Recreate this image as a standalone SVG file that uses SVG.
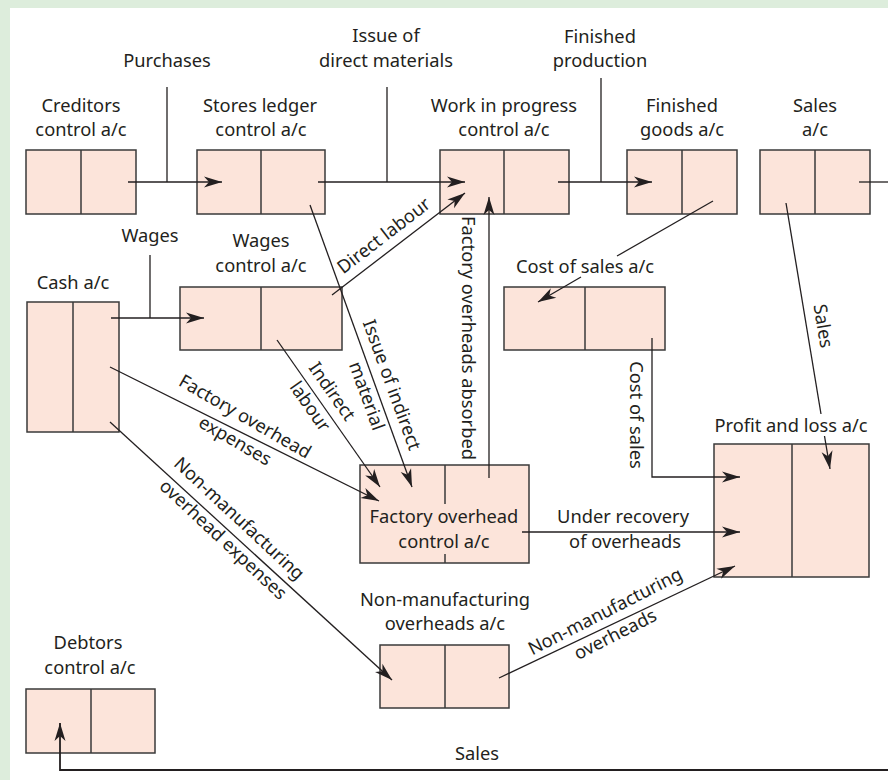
<svg xmlns="http://www.w3.org/2000/svg" width="888" height="780" viewBox="0 0 888 780">
<defs>
<marker id="ah" markerUnits="userSpaceOnUse" markerWidth="22" markerHeight="14" viewBox="-19 -7 20 14" refX="0" refY="0" orient="auto">
<path d="M0,0 L-18,-5.5 L-13,0 L-18,5.5 Z" fill="#231f20"/>
</marker>
</defs>
<style>
.bg{fill:#ffffff}
.band{fill:#ddeddc}
.box{fill:#fce4da;stroke:#3a3a3a;stroke-width:1.5}
.div{stroke:#3a3a3a;stroke-width:1.5;fill:none}
.c{stroke:#231f20;stroke-width:1.3;fill:none}
.ca{stroke:#231f20;stroke-width:1.3;fill:none;marker-end:url(#ah)}
text{font-family:"Noto Sans","Liberation Sans",sans-serif;font-size:18.3px;fill:#231f20;text-anchor:middle}
</style>
<rect class="bg" x="0" y="0" width="888" height="780"/>
<rect class="band" x="0" y="0" width="10" height="780"/>
<rect class="band" x="0" y="0" width="888" height="8"/>

<g id="creditors">
<rect class="box" x="26" y="150" width="110" height="64"/>
<line class="div" x1="81" y1="150" x2="81" y2="214"/>
<text x="81" y="112">Creditors</text>
<text x="81" y="136">control a/c</text>
</g>
<g id="stores">
<rect class="box" x="197" y="150" width="128" height="64"/>
<line class="div" x1="261" y1="150" x2="261" y2="214"/>
<text x="260" y="112">Stores ledger</text>
<text x="261" y="136">control a/c</text>
</g>
<g id="wip">
<rect class="box" x="440" y="150" width="129" height="64"/>
<line class="div" x1="504" y1="150" x2="504" y2="214"/>
<text x="504" y="112">Work in progress</text>
<text x="504" y="136">control a/c</text>
</g>
<g id="finished">
<rect class="box" x="627" y="150" width="110" height="64"/>
<line class="div" x1="682" y1="150" x2="682" y2="214"/>
<text x="682" y="112">Finished</text>
<text x="682" y="136">goods a/c</text>
</g>
<g id="sales">
<rect class="box" x="760" y="150" width="110" height="64"/>
<line class="div" x1="815" y1="150" x2="815" y2="214"/>
<text x="815" y="112">Sales</text>
<text x="815" y="136">a/c</text>
</g>
<g id="cash">
<rect class="box" x="27" y="302" width="92" height="130"/>
<line class="div" x1="73" y1="302" x2="73" y2="432"/>
<text x="73" y="289">Cash a/c</text>
</g>
<g id="wages">
<rect class="box" x="180" y="287" width="162" height="63"/>
<line class="div" x1="261" y1="287" x2="261" y2="350"/>
<text x="261" y="247">Wages</text>
<text x="261" y="272">control a/c</text>
</g>
<g id="costofsales">
<rect class="box" x="504" y="287" width="161" height="63"/>
<line class="div" x1="585" y1="287" x2="585" y2="350"/>
<text x="585" y="273">Cost of sales a/c</text>
</g>
<g id="factoryoverhead">
<rect class="box" x="360" y="465" width="169" height="98"/>
<line class="div" x1="445" y1="465" x2="445" y2="504"/>
<line class="div" x1="445" y1="554" x2="445" y2="563"/>
<text x="444" y="523">Factory overhead</text>
<text x="444" y="548">control a/c</text>
</g>
<g id="profitloss">
<rect class="box" x="714" y="444" width="155" height="133"/>
<line class="div" x1="792" y1="444" x2="792" y2="577"/>
<text x="791" y="432">Profit and loss a/c</text>
</g>
<g id="nonmanufacturing">
<rect class="box" x="380" y="645" width="129" height="63"/>
<line class="div" x1="445" y1="645" x2="445" y2="708"/>
<text x="445" y="606">Non-manufacturing</text>
<text x="445" y="630">overheads a/c</text>
</g>
<g id="debtors">
<rect class="box" x="26" y="689" width="129" height="64"/>
<line class="div" x1="91" y1="689" x2="91" y2="753"/>
<text x="88" y="649">Debtors</text>
<text x="90" y="674">control a/c</text>
</g>

<g id="connectors">
<line class="ca" x1="128" y1="182" x2="222" y2="182"/>
<line class="c" x1="167" y1="87" x2="167" y2="182"/>
<line class="ca" x1="318" y1="182" x2="465" y2="182"/>
<line class="c" x1="387" y1="87" x2="387" y2="182"/>
<line class="ca" x1="558" y1="182" x2="652" y2="182"/>
<line class="c" x1="601" y1="78" x2="601" y2="182"/>
<line class="c" x1="859" y1="182" x2="888" y2="182"/>
<line class="ca" x1="111" y1="318" x2="204" y2="318"/>
<line class="c" x1="150" y1="255" x2="150" y2="318"/>
<line class="ca" x1="332" y1="295" x2="465" y2="193"/>
<line class="ca" x1="310" y1="205" x2="412" y2="487"/>
<line class="ca" x1="277" y1="340" x2="380" y2="487"/>
<line class="ca" x1="110" y1="367" x2="379" y2="501"/>
<line class="ca" x1="110" y1="422" x2="392" y2="680"/>
<line class="ca" x1="489" y1="478" x2="489" y2="197"/>
<line class="c" x1="713" y1="201" x2="617" y2="256"/>
<line class="ca" x1="581" y1="277" x2="538" y2="302"/>
<line class="c" x1="786" y1="203" x2="821" y2="414"/>
<line class="ca" x1="824.5" y1="436" x2="830" y2="469"/>
<polyline class="ca" points="652,338 652,477 740,477"/>
<line class="ca" x1="522" y1="532" x2="740" y2="532"/>
<line class="ca" x1="499" y1="678" x2="735" y2="566"/>
<polyline class="ca" style="stroke-width:1.8" points="888,770 60,770 60,723"/>

<text x="167" y="67">Purchases</text>
<text x="386" y="42">Issue of</text>
<text x="386" y="67">direct materials</text>
<text x="600" y="43">Finished</text>
<text x="600" y="67">production</text>
<text x="150" y="242">Wages</text>
<text transform="translate(387.5,240.5) rotate(-37.5)">Direct labour</text>
<text transform="translate(386,387) rotate(70)">Issue of indirect</text>
<text transform="translate(361,398) rotate(70)">material</text>
<text transform="translate(327,395) rotate(55)">Indirect</text>
<text transform="translate(305,410) rotate(55)">labour</text>
<text transform="translate(242,422) rotate(30)">Factory overhead</text>
<text transform="translate(232,446) rotate(30)">expenses</text>
<text transform="translate(235,523) rotate(43)">Non-manufacturing</text>
<text transform="translate(219,544) rotate(43)">overhead expenses</text>
<text transform="translate(462,338) rotate(90)">Factory overheads absorbed</text>
<text transform="translate(630,415) rotate(90)">Cost of sales</text>
<text transform="translate(817,327) rotate(80.6)">Sales</text>
<text x="623" y="523">Under recovery</text>
<text x="625" y="548">of overheads</text>
<text transform="translate(608,617) rotate(-27)">Non-manufacturing</text>
<text transform="translate(618,640) rotate(-27)">overheads</text>
<text x="477" y="760">Sales</text>
</g>
</svg>
